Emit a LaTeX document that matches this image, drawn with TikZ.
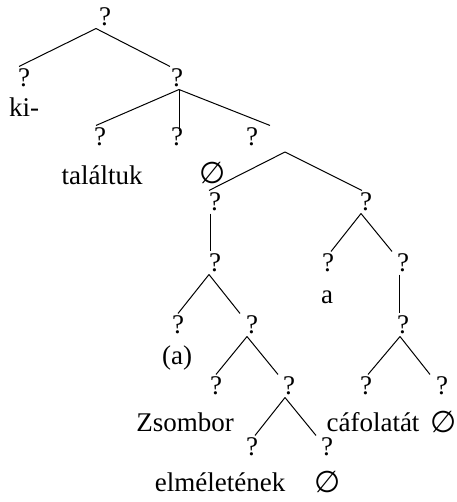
\documentclass[tikz,border=0pt]{standalone}
\usepackage{fontspec}
\setmainfont{Liberation Serif}
\newfontfamily\emptysetfont{DejaVu Sans}
\begin{document}
\begin{tikzpicture}[x=0.5pt, y=-0.5pt, inner sep=1pt, font=\fontsize{13.5}{16}\selectfont]
\tikzset{emptyset/.style={inner sep=0pt, font=\emptysetfont\fontsize{15}{17}\selectfont}}
\useasboundingbox (0,0) rectangle (456,502);
\node (q0) at (105,17) {?};
\node (q1) at (24,78) {?};
\node (q2) at (177,78) {?};
\node (q21) at (100,137) {?};
\node (q22) at (177,137) {?};
\node (q23) at (252,137) {?};
\coordinate (s) at (285,152);
\node (q3) at (215,202) {?};
\node (q4) at (366,202) {?};
\node (q31) at (215,263) {?};
\node (q32) at (178,325) {?};
\node (q33) at (252,325) {?};
\node (q331) at (216,386) {?};
\node (q332) at (289,386) {?};
\node (q3321) at (252,447) {?};
\node (q3322) at (327,447) {?};
\node (q41) at (328,263) {?};
\node (q42) at (403,263) {?};
\node (q43) at (403,325) {?};
\node (q431) at (366,386) {?};
\node (q432) at (442,386) {?};
% Words:
\node (t1) at (24,107) {ki-};
\node (t2) at (102,175) {találtuk};
\node[emptyset] (t3) at (213,173) {∅};
\node (t4) at (327,297) {a};
\node (t5) at (177,358) {(a)};
\node (t6) at (185,422) {Zsombor};
\node (t7) at (373,422) {cáfolatát};
\node[emptyset] (t8) at (444,422) {∅};
\node (t9) at (220,482) {elméletének};
\node[emptyset] (t10) at (328,482) {∅};
% Branches:
\draw [line width=0.5pt] ([xshift=-4.5pt]q0.south)--([xshift=-2.5pt]q1.north);
\draw [line width=0.5pt] ([xshift=-4.5pt]q0.south)--([xshift=-3.5pt]q2.north);
\draw [line width=0.5pt] ([xshift=1pt]q2.south)--([xshift=-2pt]q21.north);
\draw [line width=0.5pt] ([xshift=1pt]q2.south)--([xshift=1pt, yshift=-3pt]q22.north);
\draw [line width=0.5pt] ([xshift=1pt]q2.south)--([xshift=9pt]q23.north);
\draw [line width=0.5pt] (s)--([xshift=-3pt]q3.north);
\draw [line width=0.5pt] (s)--([xshift=-2pt]q4.north);
\draw [line width=0.5pt] ([xshift=-2.5pt]q3.south)--([xshift=-2.5pt]q31.north);
\draw [line width=0.5pt] ([xshift=-3pt]q31.south)--(q32.north);
\draw [line width=0.5pt] ([xshift=-3pt]q31.south)--([xshift=-6pt]q33.north);
\draw [line width=0.5pt] ([xshift=-2.5pt]q33.south)--(q331.north);
\draw [line width=0.5pt] ([xshift=-2.5pt]q33.south)--([xshift=-5.5pt]q332.north);
\draw [line width=0.5pt] ([xshift=-2pt]q332.south)--([xshift=1.5pt]q3321.north);
\draw [line width=0.5pt] ([xshift=-2pt]q332.south)--([xshift=-5.5pt]q3322.north);
\draw [line width=0.5pt] ([xshift=-2.5pt]q4.south)--([xshift=1.5pt]q41.north);
\draw [line width=0.5pt] ([xshift=-2.5pt]q4.south)--([xshift=-5.5pt]q42.north);
\draw [line width=0.5pt] ([xshift=-2pt]q42.south)--([xshift=-2pt]q43.north);
\draw [line width=0.5pt] ([xshift=-1.5pt]q43.south)--([xshift=1pt]q431.north);
\draw [line width=0.5pt] ([xshift=-1.5pt]q43.south)--([xshift=-6pt]q432.north);
\end{tikzpicture}
\end{document}
